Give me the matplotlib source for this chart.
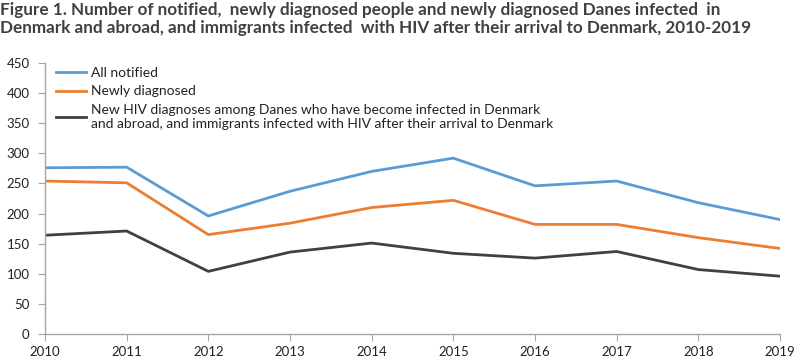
import matplotlib
matplotlib.use("Agg")
import matplotlib.pyplot as plt

years = [2010, 2011, 2012, 2013, 2014, 2015, 2016, 2017, 2018, 2019]
all_notified = [276, 277, 196, 237, 270, 292, 246, 254, 218, 190]
newly_diagnosed = [254, 251, 165, 184, 210, 222, 182, 182, 160, 142]
danes_and_immigrants = [164, 171, 104, 136, 151, 134, 126, 137, 107, 96]

labels = [
    "All notified",
    "Newly diagnosed",
    "New HIV diagnoses among Danes who have become infected in Denmark\n"
    "and abroad, and immigrants infected with HIV after their arrival to Denmark",
]
colores = ["#5B9BD5", "#ED7D31", "#404040"]

plt.rcParams["font.family"] = ["Lato", "DejaVu Sans"]

fig = plt.figure(figsize=(8, 3.64), dpi=100)
ax = fig.add_axes([45 / 800, 30 / 364, 735 / 800, 271 / 364])

for serie, lab, c in zip([all_notified, newly_diagnosed, danes_and_immigrants], labels, colores):
    ax.plot(years, serie, color=c, lw=2.0, label=lab)

ax.set_xlim(2010, 2019)
ax.set_ylim(0, 450)
ax.set_xticks(years)
ax.set_yticks(range(0, 451, 50))
ax.tick_params(axis="both", labelsize=9.5, colors="#222222", length=5, width=0.8)
ax.tick_params(axis="both", color="#A6A6A6")
ax.tick_params(axis="y", pad=6)
for s in ["top", "right"]:
    ax.spines[s].set_visible(False)
for s in ["left", "bottom"]:
    ax.spines[s].set_color("#A6A6A6")
    ax.spines[s].set_linewidth(1.0)

leg = ax.legend(loc="upper left", bbox_to_anchor=(0.008, 1.005), frameon=False,
                fontsize=10, handlelength=2.1, handletextpad=0.4, labelspacing=0.45,
                borderaxespad=0)
for t in leg.get_texts():
    t.set_color("#222222")

fig.text(0.0, 0.995,
         "Figure 1. Number of notified,  newly diagnosed people and newly diagnosed Danes infected  in\n"
         "Denmark and abroad, and immigrants infected  with HIV after their arrival to Denmark, 2010-2019",
         ha="left", va="top", fontsize=12.3, fontweight="bold", color="#404040", linespacing=1.15)

fig.savefig("out.png", dpi=100)
